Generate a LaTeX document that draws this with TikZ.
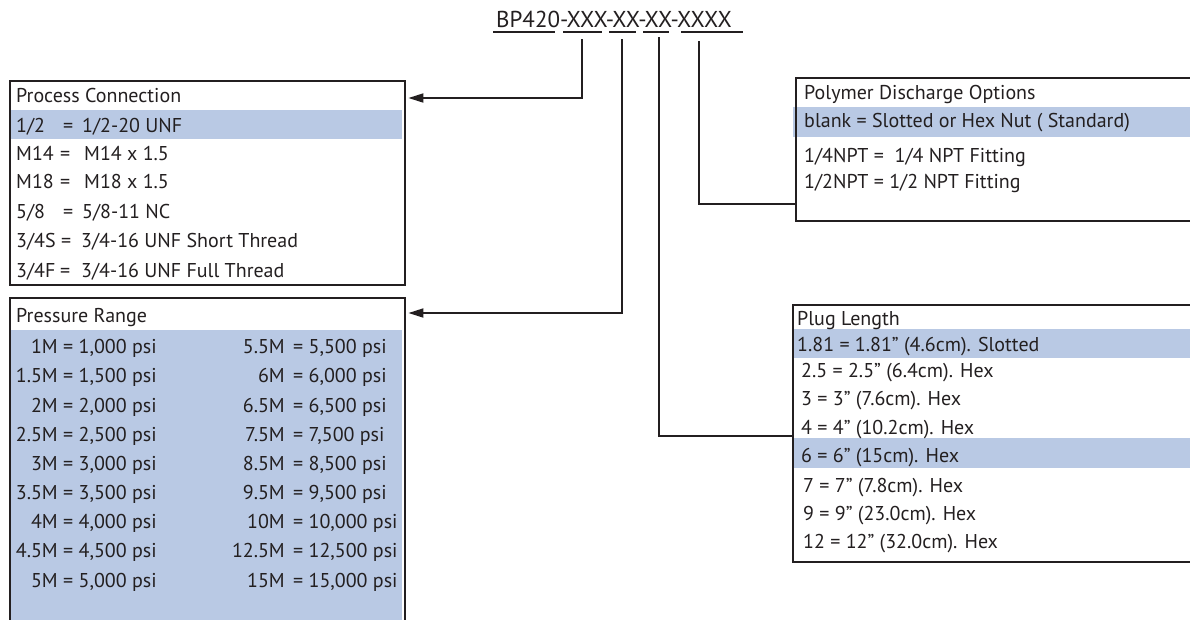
\documentclass[tikz,border=0pt]{standalone}
\usepackage{fontspec}
\setmainfont{PT Sans}
\usetikzlibrary{arrows.meta}
\definecolor{band}{RGB}{185,201,228}
\definecolor{ink}{RGB}{35,31,32}
\begin{document}
\begin{tikzpicture}[x=1pt,y=-1pt,
  txt/.style={anchor=base west,inner sep=0pt,text=ink,font=\fontsize{20}{22}\selectfont},
  txe/.style={anchor=base east,inner sep=0pt,text=ink,font=\fontsize{20}{22}\selectfont},
  boxnode/.style={draw=ink,line width=2.4pt,anchor=north west,inner sep=0pt,fill=none},
  conn/.style={draw=ink,line width=1.8pt},
  thin/.style={draw=ink,line width=1.2pt},
  arr/.style={-{Triangle[length=15pt,width=9pt]},shorten >=2pt}]
\useasboundingbox (0,0) rectangle (1190,619);
% title
\node[anchor=base west,inner sep=0pt,text=ink,font=\fontsize{23}{26}\selectfont] (title) at (496,27) {BP420-XXX-XX-XX-XXXX};
\draw[thin] (493,32) -- (555,32) (563,32) -- (602,32) (609,32) -- (636,32) (643,32) -- (669,32) (681,32) -- (743,32);
\coordinate (s1) at (582,39);
\coordinate (s2) at (622,39);
\coordinate (s3) at (659,37);
\coordinate (s4) at (699,41);
% bands
\fill[band] (10,110) rectangle (402,139);
\fill[band] (10,330) rectangle (402,625);
\fill[band] (793,107) rectangle (1195,137);
\fill[band] (793,329) rectangle (1195,358);
\fill[band] (793,438) rectangle (1195,468);
% boxes
\node[boxnode,minimum width=395pt,minimum height=204pt] (pc) at (9,80) {};
\node[boxnode,minimum width=395pt,minimum height=340pt] (pr) at (9,297) {};
\node[boxnode,minimum width=410pt,minimum height=143pt] (po) at (795,77) {};
\node[boxnode,minimum width=410pt,minimum height=257pt] (pl) at (792,304) {};
% connectors
\draw[conn,arr] (s1) |- ([yshift=-18pt]pc.north east);
\draw[conn,arr] (s2) |- ([yshift=-16pt]pr.north east);
\draw[line width=2.4pt,draw=ink] (s3) |- ([yshift=-132pt]pl.north west);
\draw[thin] (s4) |- ([yshift=-127pt]po.north west);
% process connection
\node[txt] (pch) at (16,102) {Process Connection};
\node[txt] (pck1) at (16,132) {1/2};   \node[txt] (pce1) at (63,132) {=}; \node[txt] (pcv1) at (82,132) {1/2-20 UNF};
\node[txt] (pck2) at (16,160) {M14};   \node[txt] (pce2) at (60,160) {=}; \node[txt] (pcv2) at (84,160) {M14 x 1.5};
\node[txt] (pck3) at (16,188) {M18};   \node[txt] (pce3) at (60,188) {=}; \node[txt] (pcv3) at (84,188) {M18 x 1.5};
\node[txt] (pck4) at (16,218) {5/8};   \node[txt] (pce4) at (63,218) {=}; \node[txt] (pcv4) at (82,218) {5/8-11 NC};
\node[txt] (pck5) at (16,247) {3/4S};  \node[txt] (pce5) at (61,247) {=}; \node[txt] (pcv5) at (81,247) {3/4-16 UNF Short Thread};
\node[txt] (pck6) at (16,277) {3/4F};  \node[txt] (pce6) at (60,277) {=}; \node[txt] (pcv6) at (81,277) {3/4-16 UNF Full Thread};
% pressure range
\node[txt] (prh) at (16,322) {Pressure Range};
\foreach \k/\v/\y [count=\i] in {1M/{1,000}/353,1.5M/{1,500}/382,2M/{2,000}/412,2.5M/{2,500}/441,3M/{3,000}/470,3.5M/{3,500}/499,4M/{4,000}/528,4.5M/{4,500}/557,5M/{5,000}/587}{
  \node[txe] (prl\i) at (58,\y) {\k};
  \node[txt] (prlv\i) at (63,\y) {= \v\ psi};
}
\foreach \k/\v/\y [count=\i] in {5.5M/{5,500}/353,6M/{6,000}/382,6.5M/{6,500}/412,7.5M/{7,500}/441,8.5M/{8,500}/470,9.5M/{9,500}/499,10M/{10,000}/528,12.5M/{12,500}/557,15M/{15,000}/587}{
  \node[txe] (prr\i) at (285,\y) {\k};
  \node[txt] (prrv\i) at (293,\y) {= \v\ psi};
}
% polymer
\node[txt] (poh) at (804,99) {Polymer Discharge Options};
\node[txt] (po1) at (804,127) {blank = Slotted or Hex Nut ( Standard)};
\node[txt] (po2) at (804,162) {1/4NPT = \ 1/4 NPT Fitting};
\node[txt] (po3) at (804,188) {1/2NPT = 1/2 NPT Fitting};
% plug length
\node[txt] (plh) at (797,325) {Plug Length};
\node[txt] (pl1) at (797,351) {1.81 = 1.81” (4.6cm). Slotted};
\node[txt] (pl2) at (801,377) {2.5 = 2.5” (6.4cm). Hex};
\node[txt] (pl3) at (801,405) {3 = 3” (7.6cm). Hex};
\node[txt] (pl4) at (801,434) {4 = 4” (10.2cm). Hex};
\node[txt] (pl5) at (801,462) {6 = 6” (15cm). Hex};
\node[txt] (pl6) at (803,492) {7 = 7” (7.8cm). Hex};
\node[txt] (pl7) at (803,520) {9 = 9” (23.0cm). Hex};
\node[txt] (pl8) at (803,548) {12 = 12” (32.0cm). Hex};
\end{tikzpicture}
\end{document}
